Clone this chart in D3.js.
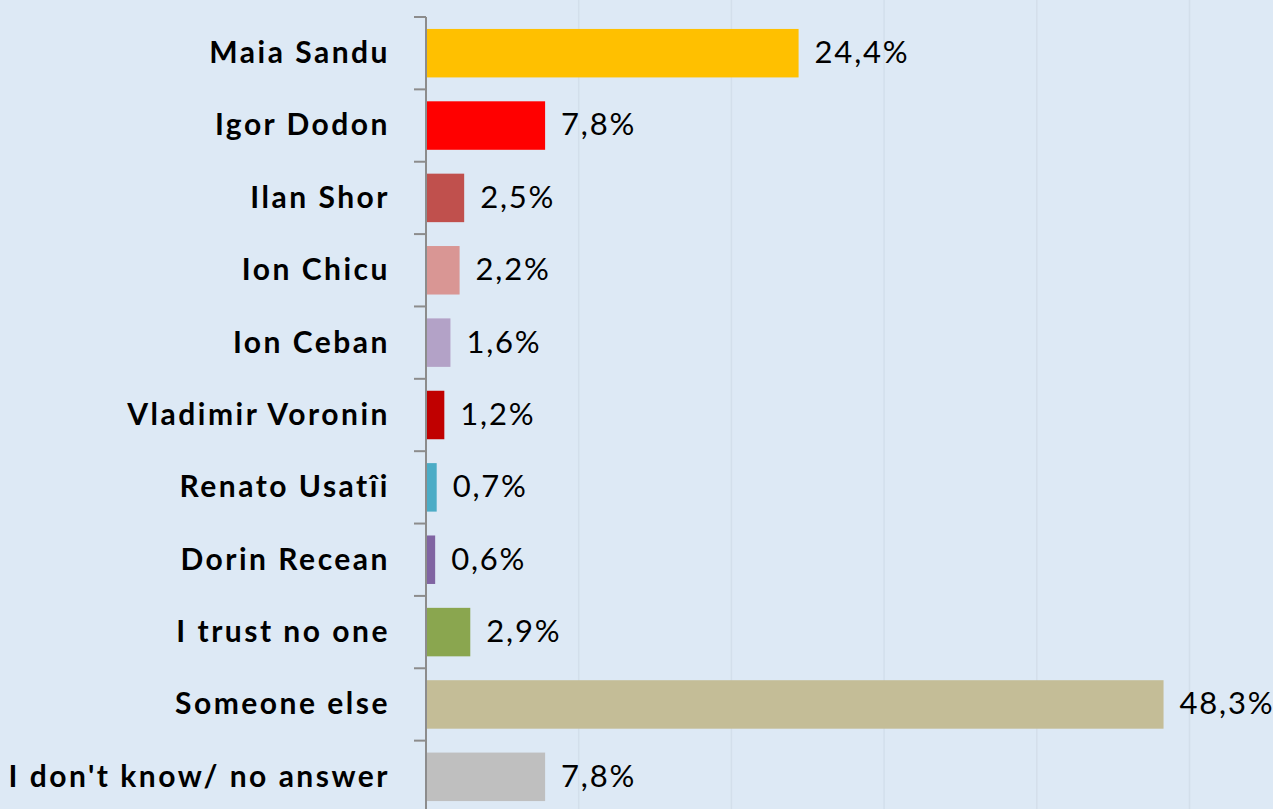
<!DOCTYPE html>
<html>
<head>
<meta charset="utf-8">
<script src="https://cdn.jsdelivr.net/npm/d3@7"></script>
<style>
  html, body { margin: 0; padding: 0; background: #dde9f5; }
  #chart { width: 1273px; height: 809px; overflow: hidden; }
</style>
</head>
<body>
<div id="chart"></div>
<script>
const categories = ['Maia Sandu', 'Igor Dodon', 'Ilan Shor', 'Ion Chicu', 'Ion Ceban',
  'Vladimir Voronin', 'Renato Usatîi', 'Dorin Recean', 'I trust no one',
  'Someone else', "I don't know/ no answer"];
const values = [24.4, 7.8, 2.5, 2.2, 1.6, 1.2, 0.7, 0.6, 2.9, 48.3, 7.8];
const barColors = ['#ffc000', '#ff0000', '#c0504d', '#d99694', '#b3a2c7', '#c00000',
  '#4bacc6', '#8064a2', '#8aa64f', '#c4bd97', '#bfbfbf'];
const gridTicks = [10, 20, 30, 40, 50];

const data = categories.map((c, i) => ({ name: c, value: values[i], color: barColors[i] }));

const margin = { top: 17, right: 0, bottom: 0, left: 426 };
const width = 1273 - margin.left;
const height = 796;

const xscale = d3.scaleLinear().domain([0, 50]).range([0, 763.5]);
const yscale = d3.scaleBand()
  .domain(categories)
  .range([0, height])
  .paddingInner(0.33)
  .paddingOuter(0.165);

const svg = d3.select('#chart')
  .append('svg')
  .attr('width', 1273)
  .attr('height', 809)
  .style('font-family', 'Lato, sans-serif');

svg.append('rect').attr('width', 1273).attr('height', 809).attr('fill', '#dde9f5');

const g = svg.append('g').attr('transform', `translate(${margin.left},${margin.top})`);

// gridlines
g.selectAll('.grid')
  .data(gridTicks)
  .enter()
  .append('line')
  .attr('x1', d => xscale(d))
  .attr('x2', d => xscale(d))
  .attr('y1', -20)
  .attr('y2', 809)
  .attr('stroke', '#d3dfeb')
  .attr('stroke-width', 1.5);

// bars
g.selectAll('.bar')
  .data(data)
  .enter()
  .append('rect')
  .attr('x', 0)
  .attr('y', d => yscale(d.name))
  .attr('width', d => xscale(d.value))
  .attr('height', yscale.bandwidth())
  .attr('fill', d => d.color);

// value labels
g.selectAll('.val')
  .data(data)
  .enter()
  .append('text')
  .attr('x', d => xscale(d.value) + 16)
  .attr('y', d => yscale(d.name) + yscale.bandwidth() / 2)
  .attr('dy', '0.32em')
  .attr('font-size', 31)
  .attr('letter-spacing', 1.8)
  .attr('fill', '#000')
  .text(d => d.value.toFixed(1).replace('.', ',') + '%');

// y axis
const step = yscale.step();
const tickY = d3.range(categories.length + 1).map(i => i * step);
g.append('line')
  .attr('x1', 0).attr('x2', 0)
  .attr('y1', 0).attr('y2', 809)
  .attr('stroke', '#8c8c8c')
  .attr('stroke-width', 2);
g.selectAll('.tick')
  .data(tickY)
  .enter()
  .append('line')
  .attr('x1', -12).attr('x2', 0)
  .attr('y1', d => d).attr('y2', d => d)
  .attr('stroke', '#8c8c8c')
  .attr('stroke-width', 2);

// category labels
g.selectAll('.cat')
  .data(data)
  .enter()
  .append('text')
  .attr('x', -36)
  .attr('y', d => yscale(d.name) + yscale.bandwidth() / 2)
  .attr('dy', '0.33em')
  .attr('text-anchor', 'end')
  .attr('font-size', 30)
  .attr('font-weight', 'bold')
  .attr('letter-spacing', 2.5)
  .attr('fill', '#000')
  .text(d => d.name);
</script>
</body>
</html>
